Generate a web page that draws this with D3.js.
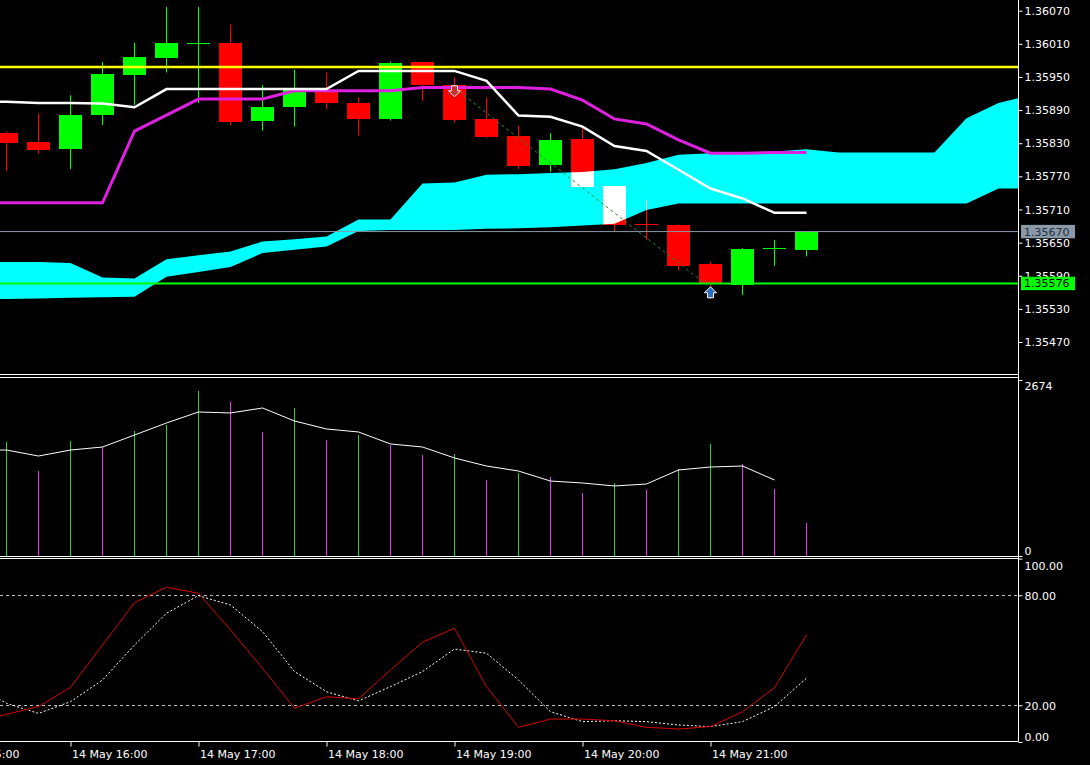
<!DOCTYPE html>
<html lang="en">
<head>
<meta charset="UTF-8">
<title>M15 chart - Ichimoku, Volumes, Stochastic</title>
<script src="https://d3js.org/d3.v7.min.js"></script>
<style>
  html, body { margin: 0; padding: 0; background: #000; overflow: hidden; }
  svg { display: block; }
  text { font-family: "DejaVu Sans", sans-serif; font-size: 11px; fill: #fff; }
</style>
</head>
<body>
<svg id="chart" width="1090" height="765"></svg>
<script>
// ---- data, one entry per M15 bar, 14 May 15:30 .. 21:45
const opens  = [1.35849, 1.35832, 1.35820, 1.35880, 1.35954, 1.35985, 1.36011, 1.36012, 1.35871, 1.35896, 1.35926, 1.35903, 1.35874,
                1.35977, 1.35935, 1.35874, 1.35843, 1.35791, 1.35838, 1.35753, 1.35683, 1.35682, 1.35611, 1.35574, 1.35639, 1.35637];
const highs  = [1.35851, 1.35884, 1.35917, 1.35977, 1.36012, 1.36077, 1.36077, 1.36045, 1.35935, 1.35963, 1.35958, 1.35913, 1.35978,
                1.35978, 1.35949, 1.35913, 1.35861, 1.35848, 1.35857, 1.35753, 1.35727, 1.35683, 1.35615, 1.35640, 1.35655, 1.35671];
const lows   = [1.35780, 1.35811, 1.35783, 1.35863, 1.35899, 1.35958, 1.35903, 1.35863, 1.35853, 1.35860, 1.35892, 1.35844, 1.35871,
                1.35907, 1.35868, 1.35839, 1.35783, 1.35778, 1.35751, 1.35670, 1.35655, 1.35599, 1.35548, 1.35555, 1.35608, 1.35625];
const closes = [1.35831, 1.35818, 1.35881, 1.35955, 1.35986, 1.36012, 1.36012, 1.35869, 1.35896, 1.35926, 1.35902, 1.35874, 1.35976,
                1.35936, 1.35872, 1.35842, 1.35789, 1.35836, 1.35751, 1.35682, 1.35682, 1.35608, 1.35576, 1.35639, 1.35640, 1.35670];

// indicator series start one bar earlier (15:15, just off the left edge)
const tenkan = [1.35906, 1.35905, 1.35903, 1.35903, 1.35902, 1.35895, 1.35928, 1.35928, 1.35928, 1.35928, 1.35928, 1.35928, 1.35961, 1.35961,
                1.35961, 1.35961, 1.35943, 1.35880, 1.35878, 1.35860, 1.35825, 1.35816, 1.35782, 1.35748, 1.35730, 1.35704, 1.35704];
const kijun  = [1.35722, 1.35722, 1.35722, 1.35722, 1.35722, 1.35852, 1.35881, 1.35910, 1.35910, 1.35910, 1.35925, 1.35925, 1.35925, 1.35925,
                1.35931, 1.35931, 1.35931, 1.35931, 1.35928, 1.35908, 1.35874, 1.35865, 1.35836, 1.35812, 1.35812, 1.35813, 1.35813];
// cloud runs on past the last candle
const spanA  = [1.35615, 1.35615, 1.35615, 1.35613, 1.35587, 1.35585, 1.35620, 1.35627, 1.35634, 1.35652, 1.35656, 1.35661, 1.35692, 1.35692,
                1.35757, 1.35759, 1.35773, 1.35774, 1.35776, 1.35778, 1.35783, 1.35794, 1.35809, 1.35812, 1.35813, 1.35815, 1.35819,
                1.35813, 1.35813, 1.35813, 1.35813, 1.35875, 1.35903, 1.35917];
const spanB  = [1.35548, 1.35548, 1.35549, 1.35550, 1.35551, 1.35552, 1.35588, 1.35597, 1.35606, 1.35631, 1.35637, 1.35643, 1.35671, 1.35673,
                1.35673, 1.35673, 1.35675, 1.35676, 1.35678, 1.35681, 1.35684, 1.35709, 1.35721, 1.35721, 1.35721, 1.35721, 1.35721,
                1.35721, 1.35721, 1.35721, 1.35721, 1.35721, 1.35748, 1.35748];

// volumes (visible bars) and their moving average (from 15:15)
const volumes = [1732, 1291, 1747, 1656, 1899, 1990, 2507, 2340, 1884, 2249, 1762, 1838, 1686,
                 1534, 1550, 1155, 1261, 1200, 957, 1109, 1003, 1322, 1702, 1398, 1018, 501];
const volMA   = [1610, 1610, 1519, 1610, 1656, 1838, 2021, 2188, 2173, 2249, 2051, 1930, 1884, 1702,
                 1656, 1489, 1367, 1291, 1139, 1109, 1064, 1094, 1307, 1352, 1367, 1155];
const volMax = 2674;

// stochastic (from 15:15)
const stochMain   = [11.0, 15.1, 19.3, 29.8, 52.9, 76.0, 84.4, 81.1, 61.1, 40.2, 18.4, 24.7, 23.5, 39.3,
                     54.4, 62.0, 30.2, 8.0, 12.5, 12.5, 11.6, 8.0, 7.1, 8.4, 16.5, 29.6, 58.4];
const stochSignal = [31.0, 21.1, 15.6, 22.0, 33.8, 52.9, 70.2, 79.8, 74.7, 60.2, 38.4, 27.4, 22.4, 30.2,
                     38.4, 50.7, 48.4, 33.8, 16.5, 11.1, 11.6, 11.1, 9.3, 8.4, 11.1, 19.3, 34.8];
const stochLevels = [80, 20];
const stochTicks  = [100, 80, 20, 0];

// axes
const priceTicks = [1.36070, 1.36010, 1.35950, 1.35890, 1.35830, 1.35770, 1.35710, 1.35650, 1.35590, 1.35530, 1.35470];
const timeTickBars = [-2, 2, 6, 10, 14, 18, 22];
const timeLabels = ['14 May 15:00', '14 May 16:00', '14 May 17:00', '14 May 18:00', '14 May 19:00', '14 May 20:00', '14 May 21:00'];

// chart objects
const yellowLevel = 1.35968;
const bidPrice = 1.35670;
const supportLevel = 1.35576;
const trendFrom = { bar: 14, price: 1.35930 };
const trendTo   = { bar: 22, price: 1.35568 };
const arrows = [{ bar: 14, price: 1.35934, dir: 'down' }, { bar: 22, price: 1.35570, dir: 'up' }];

// ---- layout
const svg = d3.select('#chart');
const plotRight = 1018;
const mainBottom = 374;
const volTop = 378, volBottom = 556;
const stTop = 559, stBottom = 741;
const ind0 = -1; // bar index of the first indicator value

svg.append('rect').attr('width', 1090).attr('height', 765).attr('fill', '#000');

const x = d3.scaleLinear().domain([0, 1]).range([6.5, 38.5]);
const y = d3.scaleLinear().domain([1.36070, 1.35470]).range([10.7, 342]);
const yVol = d3.scaleLinear().domain([0, volMax]).range([556, 380]);
const ySt = d3.scaleLinear().domain([0, 100]).range([742, 558.6]);
const xi = (d, i) => x(i + ind0);

const defs = svg.append('defs');
const clip = (id, y0, y1) => {
    defs.append('clipPath').attr('id', id)
        .append('rect').attr('x', 0).attr('y', y0).attr('width', plotRight).attr('height', y1 - y0);
    return `url(#${id})`;
};

// ---- main panel
const main = svg.append('g').attr('clip-path', clip('clipMain', 0, mainBottom));
const bars = d3.range(opens.length);
const up = i => closes[i] >= opens[i];
const candleCol = i => up(i) ? '#00ff00' : '#ff0000';

main.selectAll('.wick').data(bars).enter().append('line')
    .attr('x1', i => x(i)).attr('x2', i => x(i))
    .attr('y1', i => y(highs[i])).attr('y2', i => y(lows[i]))
    .attr('stroke', candleCol).attr('stroke-width', 1);

main.selectAll('.body').data(bars).enter().append('rect')
    .attr('x', i => x(i) - 11.5).attr('width', 23)
    .attr('y', i => Math.round(y(Math.max(opens[i], closes[i]))))
    .attr('height', i => Math.max(1, Math.round(Math.abs(y(opens[i]) - y(closes[i])))))
    .attr('fill', candleCol);

// kumo, drawn in difference mode so candle parts under it flip colour
const cloudArea = d3.area()
    .x(xi)
    .y0((d, i) => y(spanB[i]))
    .y1(d => y(d));
main.append('path').datum(spanA)
    .attr('d', cloudArea)
    .attr('fill', '#00ffff')
    .style('mix-blend-mode', 'difference');

// horizontal objects
const hline = (price, color, width) => main.append('line')
    .attr('x1', 0).attr('x2', plotRight)
    .attr('y1', y(price)).attr('y2', y(price))
    .attr('stroke', color).attr('stroke-width', width);
hline(yellowLevel, '#ffff00', 2.5);
hline(bidPrice, '#8896a6', 1);
hline(supportLevel, '#00ff00', 2);

const line = arr => d3.line().x(xi).y(d => y(d))(arr);
main.append('path').attr('d', line(kijun)).attr('fill', 'none').attr('stroke', '#e020e0').attr('stroke-width', 3);
main.append('path').attr('d', line(tenkan)).attr('fill', 'none').attr('stroke', '#ffffff').attr('stroke-width', 2.5);

main.append('line')
    .attr('x1', x(trendFrom.bar)).attr('y1', y(trendFrom.price))
    .attr('x2', x(trendTo.bar)).attr('y2', y(trendTo.price))
    .attr('stroke', '#2e8b2e').attr('stroke-width', 1).attr('stroke-dasharray', '3,3');

const arrowPath = {
    down: 'M-3,0H3V5H6L0,11L-6,5H-3Z',
    up: 'M0,0L6,6H3V11H-3V6H-6Z'
};
main.selectAll('.arrow').data(arrows).enter().append('path')
    .attr('transform', d => `translate(${x(d.bar)},${y(d.price)})`)
    .attr('d', d => arrowPath[d.dir])
    .attr('fill', d => d.dir === 'up' ? '#2a6ebd' : '#c83228')
    .attr('stroke', '#ffffff').attr('stroke-width', 1);

// ---- volumes panel
const vol = svg.append('g').attr('clip-path', clip('clipVol', volTop, volBottom));
vol.selectAll('.vbar').data(volumes).enter().append('line')
    .attr('x1', (d, i) => x(i)).attr('x2', (d, i) => x(i))
    .attr('y1', yVol(0)).attr('y2', d => yVol(d))
    .attr('stroke', (d, i) => (i === 0 || d >= volumes[i - 1]) ? '#32cd32' : '#dd44dd')
    .attr('stroke-width', 1);
vol.append('path')
    .attr('d', d3.line().x(xi).y(d => yVol(d))(volMA))
    .attr('fill', 'none').attr('stroke', '#ffffff').attr('stroke-width', 1);

// ---- stochastic panel
const st = svg.append('g').attr('clip-path', clip('clipSt', stTop, stBottom));
st.selectAll('.lvl').data(stochLevels).enter().append('line')
    .attr('x1', 0).attr('x2', plotRight)
    .attr('y1', d => Math.round(ySt(d)) + 0.5).attr('y2', d => Math.round(ySt(d)) + 0.5)
    .attr('stroke', '#c0c0c0').attr('stroke-width', 1).attr('stroke-dasharray', '3,3');
const stLine = d3.line().x(xi).y(d => ySt(d));
st.append('path').attr('d', stLine(stochSignal))
    .attr('fill', 'none').attr('stroke', '#ffffff').attr('stroke-width', 1).attr('stroke-dasharray', '2,2');
st.append('path').attr('d', stLine(stochMain))
    .attr('fill', 'none').attr('stroke', '#d80000').attr('stroke-width', 1);

// ---- frames
const frame = svg.append('g').attr('stroke', '#ffffff').attr('stroke-width', 1);
[374.5, 377.5, 556.5, 558.5, 741.5].forEach(v => {
    frame.append('line').attr('x1', 0).attr('x2', plotRight + 0.5).attr('y1', v).attr('y2', v);
});
frame.append('line').attr('x1', plotRight + 0.5).attr('x2', plotRight + 0.5).attr('y1', 0).attr('y2', 741.5);

const styleAxis = g => {
    g.select('.domain').remove();
    g.selectAll('line').attr('stroke', '#fff');
    g.selectAll('text').attr('fill', '#fff').style('font-size', '11px').style('font-family', '"DejaVu Sans", sans-serif');
};

// ---- price axis
svg.append('g')
    .attr('transform', `translate(${plotRight + 0.5},0)`)
    .call(d3.axisRight(y).tickValues(priceTicks).tickSize(4).tickPadding(2).tickFormat(d3.format('.5f')))
    .call(styleAxis);

const priceTag = (price, bg, fg) => {
    const g = svg.append('g').attr('transform', `translate(${plotRight + 3},${y(price)})`);
    g.append('rect').attr('x', 0).attr('y', -6.7).attr('width', 54).attr('height', 13.4).attr('fill', bg);
    g.append('text').attr('x', 3).attr('dy', '0.36em').style('fill', fg).text(d3.format('.5f')(price));
};
priceTag(bidPrice, '#8a98a8', '#25303d');
priceTag(supportLevel, '#00ff00', '#000000');

// ---- volume axis
svg.append('g')
    .attr('transform', `translate(${plotRight + 0.5},0)`)
    .call(d3.axisRight(yVol).tickValues([volMax, 0]).tickSize(4).tickPadding(2).tickFormat(d3.format('d')))
    .call(styleAxis)
    .selectAll('text').attr('dy', d => d === 0 ? '-0.1em' : '0.9em');

// ---- stochastic axis
svg.append('g')
    .attr('transform', `translate(${plotRight + 0.5},0)`)
    .call(d3.axisRight(ySt).tickValues(stochTicks).tickSize(4).tickPadding(2).tickFormat(d3.format('.2f')))
    .call(styleAxis)
    .selectAll('text').attr('dy', d => d === 100 ? '0.95em' : (d === 0 ? '-0.15em' : '0.36em'));

// ---- time axis
svg.append('g')
    .attr('transform', 'translate(0,741.5)')
    .call(d3.axisBottom(x).tickValues(timeTickBars).tickSize(5).tickFormat((d, i) => timeLabels[i]))
    .call(styleAxis)
    .selectAll('text').attr('text-anchor', 'start').attr('x', 1).attr('y', 7).attr('dy', '0.85em');
</script>
</body>
</html>
